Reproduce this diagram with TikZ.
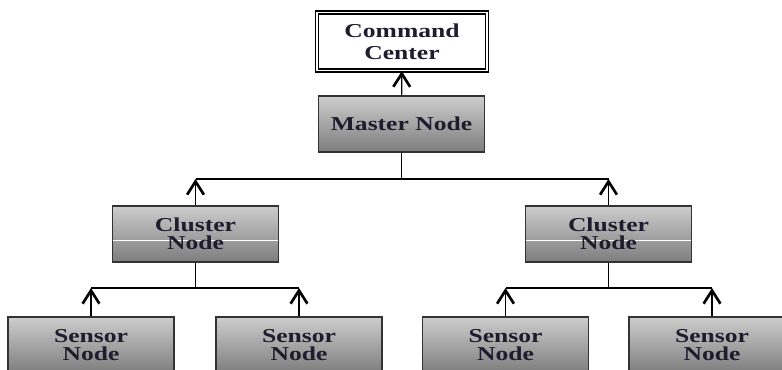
\documentclass[tikz,border=0pt]{standalone}
\usepackage{fontspec}
\newfontfamily\boxfont[FakeStretch=1.3]{Liberation Serif}
\usetikzlibrary{arrows.meta}

\definecolor{boxTop}{RGB}{205,205,205}
\definecolor{boxBot}{RGB}{125,125,125}
\definecolor{txtCol}{RGB}{30,28,45}

\tikzset{
  grayBox/.style={draw=black!80, line width=1.1pt, top color=boxTop, bottom color=boxBot,
    minimum width=41.5mm, minimum height=14mm, inner sep=0pt, align=center,
    text=txtCol, font=\boxfont\bfseries\fontsize{14}{13}\selectfont},
  splitBox/.style={grayBox, path picture={
    \draw[white, line width=0.6pt] ([yshift=-1.5mm]path picture bounding box.west)
      -- ([yshift=-1.5mm]path picture bounding box.east);}},
  cmdBox/.style={draw=black, line width=0.9pt, double=white, double distance=1.1pt,
    fill=white, minimum width=42.5mm, minimum height=14.5mm, inner sep=0pt, align=center,
    text=txtCol, font=\boxfont\bfseries\fontsize{14}{15.5}\selectfont},
  upArrow/.style={line width=0.8pt, -{Straight Barb[length=3.3mm, width=4.2mm, line width=1.9pt]}},
  bus/.style={line width=0.8pt}
}

\begin{document}
\begin{tikzpicture}[x=0.25mm, y=-0.25mm]
\clip (0,0) rectangle (782,369);

% ===== Boxes =====
\node[cmdBox] (cmd) at (402,41.5) {Command\\Center};
\node[grayBox] (master) at (401.5,124) {Master Node};

\node[splitBox] (clA) at (195.5,234) {Cluster\\Node};
\node[splitBox] (clB) at (608.5,234) {Cluster\\Node};

\foreach \nm/\x in {snA1/91, snA2/299, snB1/505.5, snB2/712} {
    \node[grayBox] (\nm) at (\x,345) {Sensor\\Node};
}

% ===== Bus points =====
\coordinate (busTop) at (401.5,179);
\coordinate (busA) at (195.5,288);
\coordinate (busB) at (608.5,288);

% ===== Connectors =====
\draw[upArrow] (master) -- (cmd);

\draw[bus] (master) -- (busTop);
\draw[bus] (clA |- busTop) -- (clB |- busTop);
\draw[upArrow] (clA) -- (clA |- busTop);
\draw[upArrow] (clB) -- (clB |- busTop);

\draw[bus] (clA) -- (busA);
\draw[bus] (snA1 |- busA) -- (snA2 |- busA);
\draw[upArrow] (snA1) -- (snA1 |- busA);
\draw[upArrow] (snA2) -- (snA2 |- busA);

\draw[bus] (clB) -- (busB);
\draw[bus] (snB1 |- busB) -- (snB2 |- busB);
\draw[upArrow] (snB1) -- (snB1 |- busB);
\draw[upArrow] (snB2) -- (snB2 |- busB);

\end{tikzpicture}
\end{document}
